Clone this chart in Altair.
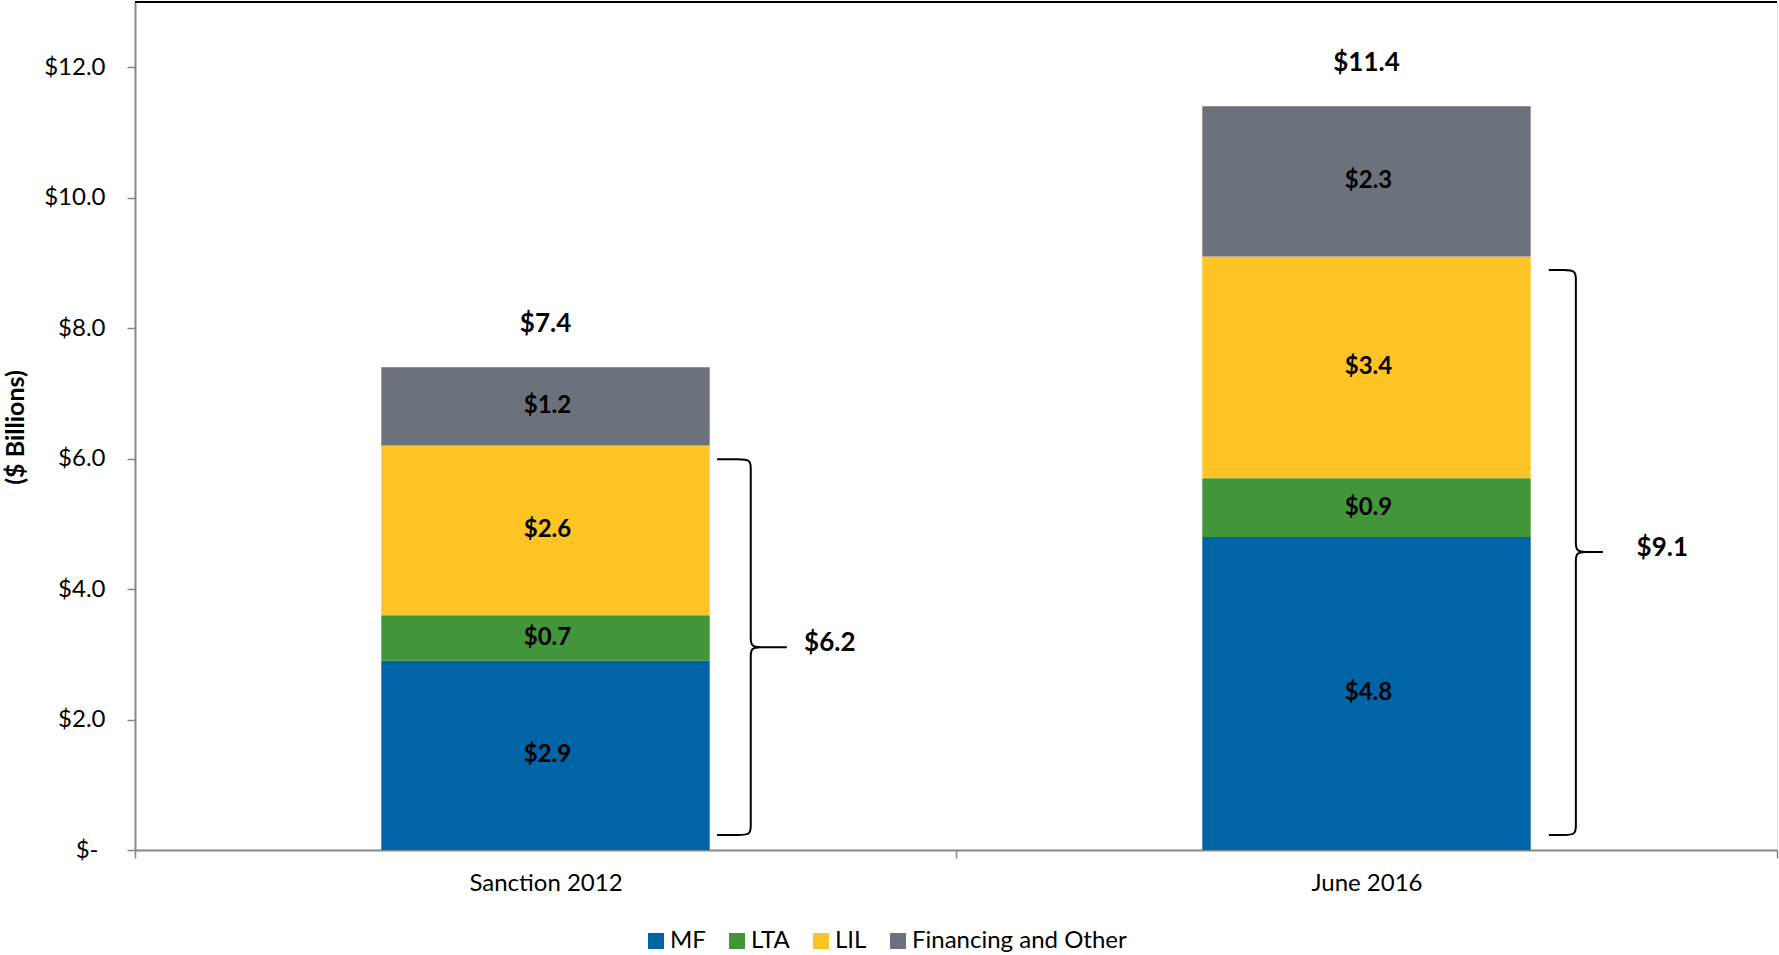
import altair as alt
import pandas as pd

# ---- data ----
categories = ["Sanction 2012", "June 2016"]
components = ["MF", "LTA", "LIL", "Financing and Other"]
mf = [2.9, 4.8]
lta = [0.7, 0.9]
lil = [2.6, 3.4]
financing = [1.2, 2.3]
totals = [7.4, 11.4]
colors = ["#0064A7", "#429539", "#FEC325", "#6B727B"]

# braces (subtotal of MF+LTA+LIL)
brace_labels = ["$6.2", "$9.1"]
brace_bottom = [0.23, 0.23]
brace_top = [5.99, 8.89]
brace_tip = [3.11, 4.57]
brace_end_x = [0.709, 1.722]
brace_stem_x = [0.750, 1.755]
brace_tip_x = [0.794, 1.788]
brace_label_x = [0.815, 1.829]

FONT = "Lato"
AXIS_GREY = "#868686"

# ---- tables ----
seg_rows = []
for i, cat in enumerate(categories):
    for j, (name, vals) in enumerate(zip(components, [mf, lta, lil, financing])):
        seg_rows.append({"category": cat, "component": name, "order": j,
                         "value": vals[i], "label": f"${vals[i]:.1f}"})
seg = pd.DataFrame(seg_rows)

tot = pd.DataFrame({"category": categories, "total": totals,
                    "label": [f"${t:.1f}" for t in totals]})

rx, ry = 0.014, 0.17
brace_rows = []
for b in range(len(brace_labels)):
    xe, xv, xt = brace_end_x[b], brace_stem_x[b], brace_tip_x[b]
    yb, yt, yp = brace_bottom[b], brace_top[b], brace_tip[b]
    pts = [(xe, yb), (xe, yb), (xv - rx, yb), (xv, yb), (xv, yb + ry), (xv, yb + ry),
           (xv, yp - ry), (xv, yp - ry), (xv, yp), (xv + rx, yp), (xv + rx, yp), (xv + rx, yp),
           (xt, yp), (xt, yp), (xt, yp),
           (xv + rx, yp), (xv + rx, yp), (xv + rx, yp), (xv, yp), (xv, yp + ry), (xv, yp + ry),
           (xv, yt - ry), (xv, yt - ry), (xv, yt), (xv - rx, yt), (xe, yt), (xe, yt)]
    for k, (px, py) in enumerate(pts):
        brace_rows.append({"brace": b, "idx": k, "bx": px, "by": py})
braces = pd.DataFrame(brace_rows)
brace_text = pd.DataFrame({"label": brace_labels, "lx": brace_label_x, "ly": brace_tip})

# ---- scales ----
yscale = alt.Scale(domain=[0, 13], nice=False, zero=True)
xband = alt.Scale(domain=categories, paddingInner=0, paddingOuter=0)
xq = alt.Scale(domain=[0, 2], nice=False, zero=False)

x_axis = alt.Axis(title=None, labelAngle=0, tickBand="extent", domainColor=AXIS_GREY,
                  domainWidth=2, tickColor=AXIS_GREY, tickWidth=1.5, tickSize=8,
                  labelFont=FONT, labelFontSize=24, labelColor="black", labelPadding=13)
y_axis = alt.Axis(values=[0, 2, 4, 6, 8, 10, 12],
                  labelExpr="datum.value == 0 ? '$-' : '$' + format(datum.value, '.1f')",
                  grid=False, domainColor=AXIS_GREY, domainWidth=2, tickColor=AXIS_GREY,
                  tickWidth=1.5, tickSize=8, labelFont=FONT, labelFontSize=24,
                  labelColor="black",
                  labelPadding={"condition": {"test": "datum.value == 0", "value": 29},
                                "value": 22},
                  title="($ Billions)", titleFont=FONT, titleFontSize=25, titleFontWeight="bold",
                  titleColor="black", titleX=-120, titleY=425, titleAngle=270,
                  titleBaseline="middle", titleAlign="center")

stacked = alt.Chart(seg).transform_stack(
    stack="value", groupby=["category"], as_=["y0", "y1"],
    sort=[alt.SortField("order", order="ascending")]
).transform_calculate(mid="(datum.y0 + datum.y1) / 2")

bars = stacked.mark_bar(width=alt.RelativeBandSize(0.4)).encode(
    x=alt.X("category:N", sort=categories, scale=xband, axis=x_axis),
    y=alt.Y("y0:Q", scale=yscale, axis=y_axis),
    y2="y1:Q",
    color=alt.Color("component:N", scale=alt.Scale(domain=components, range=colors),
                    legend=alt.Legend(title=None, orient="none", direction="horizontal",
                                      legendX=509, legendY=927, symbolType="square",
                                      symbolSize=256, symbolStrokeWidth=0,
                                      labelFont=FONT, labelFontSize=24, labelColor="black",
                                      labelLimit=0, columnPadding=19, labelOffset=2,
                                      padding=0)),
    order=alt.Order("order:Q"),
)

seg_text = stacked.mark_text(font=FONT, fontWeight="bold", fontSize=24, color="black",
                             baseline="middle", dx=2).encode(
    x=alt.X("category:N", sort=categories, scale=xband),
    y=alt.Y("mid:Q", scale=yscale),
    text="label:N",
)

tot_text = alt.Chart(tot).mark_text(font=FONT, fontWeight="bold", fontSize=26, color="black",
                                    baseline="middle", dy=-43).encode(
    x=alt.X("category:N", sort=categories, scale=xband),
    y=alt.Y("total:Q", scale=yscale),
    text="label:N",
)

main = alt.layer(bars, seg_text, tot_text)

brace_lines = alt.Chart(braces).mark_line(interpolate="basis", color="black",
                                          strokeWidth=2).encode(
    x=alt.X("bx:Q", scale=xq, axis=None),
    y=alt.Y("by:Q", scale=yscale),
    detail="brace:N",
    order="idx:Q",
)
brace_lbl = alt.Chart(brace_text).mark_text(font=FONT, fontWeight="bold", fontSize=26,
                                            color="black", align="left",
                                            baseline="middle", dy=-4).encode(
    x=alt.X("lx:Q", scale=xq, axis=None),
    y=alt.Y("ly:Q", scale=yscale),
    text="label:N",
)
brace_layer = alt.layer(brace_lines, brace_lbl)

top_line = alt.Chart(pd.DataFrame({"a": [0]})).mark_rule(color="black", strokeWidth=2).encode(
    x=alt.value(0), x2=alt.value("width"), y=alt.value(0)
)

chart = alt.layer(main, brace_layer, top_line).resolve_scale(x="independent").properties(
    width=1642, height=848,
    padding={"left": 135, "top": 2, "right": 2, "bottom": 105},
    autosize=alt.AutoSizeParams(type="none"),
).configure_view(stroke="#8c8c8c", strokeWidth=1.5).configure(font=FONT, background="white")

chart.save("out.html", embed_options={"renderer": "svg", "actions": False})
